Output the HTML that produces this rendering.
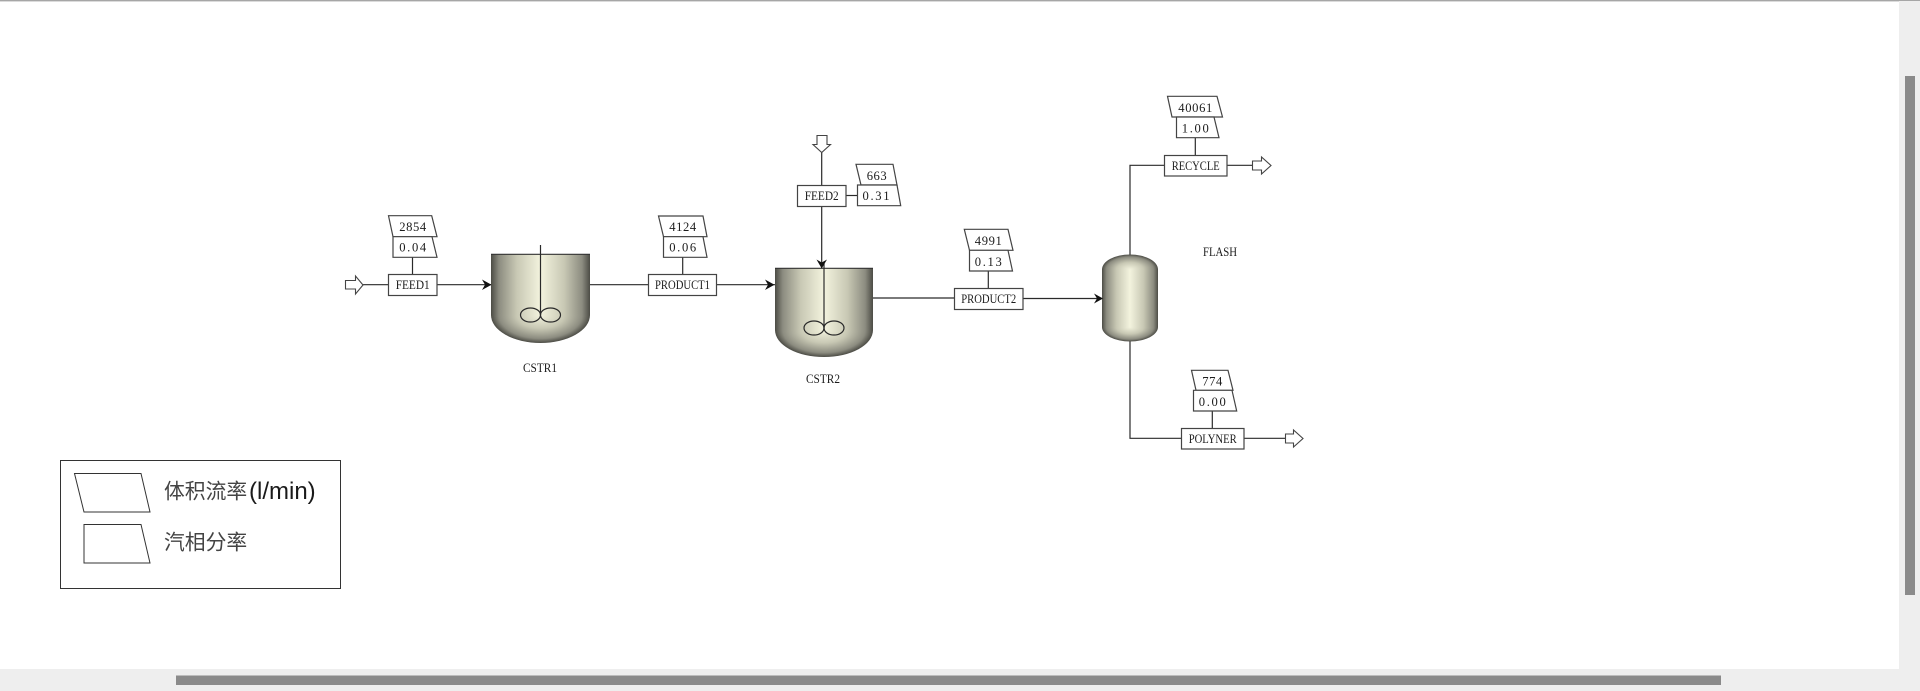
<!DOCTYPE html>
<html>
<head>
<meta charset="utf-8">
<style>
html,body{margin:0;padding:0;width:1920px;height:691px;overflow:hidden;background:#fff}
svg{display:block;position:absolute;left:0;top:0}
.t{font-family:"Liberation Serif","DejaVu Serif",serif;font-size:12.6px;fill:#1c1c1c;text-anchor:middle}
.l{font-family:"Noto Sans CJK SC","Liberation Sans",sans-serif;font-size:20.8px;fill:#444}
.m{font-family:"Liberation Sans",sans-serif;font-size:24px;fill:#1a1a1a}
.w{stroke:#2a2a2a;stroke-width:1.2;fill:none}
.b{stroke:#444;stroke-width:1.2;fill:#fff}
.o{stroke:#444;stroke-width:1.1;fill:#fff}
</style>
</head>
<body>
<svg width="1920" height="691" viewBox="0 0 1920 691" xmlns="http://www.w3.org/2000/svg">
<defs>
<linearGradient id="h" x1="0" x2="1" y1="0" y2="0">
<stop offset="0" stop-color="#4c4c45"/>
<stop offset=".08" stop-color="#8c8c80"/>
<stop offset=".26" stop-color="#c8c8b4"/>
<stop offset=".5" stop-color="#f3f3de"/>
<stop offset=".74" stop-color="#c8c8b4"/>
<stop offset=".92" stop-color="#8c8c80"/>
<stop offset="1" stop-color="#4c4c45"/>
</linearGradient>
<radialGradient id="r1" gradientUnits="userSpaceOnUse" cx="0" cy="0" r="1" gradientTransform="translate(540.5 315) scale(49.5 28)">
<stop offset="0" stop-color="#f3f3de"/>
<stop offset=".48" stop-color="#c8c8b4"/>
<stop offset=".84" stop-color="#8c8c80"/>
<stop offset="1" stop-color="#4c4c45"/>
</radialGradient>
<radialGradient id="r2" gradientUnits="userSpaceOnUse" cx="0" cy="0" r="1" gradientTransform="translate(824 330) scale(49 27)">
<stop offset="0" stop-color="#f3f3de"/>
<stop offset=".48" stop-color="#c8c8b4"/>
<stop offset=".84" stop-color="#8c8c80"/>
<stop offset="1" stop-color="#4c4c45"/>
</radialGradient>
<radialGradient id="r3" gradientUnits="userSpaceOnUse" cx="0" cy="0" r="1" gradientTransform="translate(1130 269.5) scale(28 15)">
<stop offset="0" stop-color="#f3f3de"/>
<stop offset=".48" stop-color="#c8c8b4"/>
<stop offset=".84" stop-color="#8c8c80"/>
<stop offset="1" stop-color="#4c4c45"/>
</radialGradient>
<radialGradient id="r4" gradientUnits="userSpaceOnUse" cx="0" cy="0" r="1" gradientTransform="translate(1130 327) scale(28 14.5)">
<stop offset="0" stop-color="#f3f3de"/>
<stop offset=".48" stop-color="#c8c8b4"/>
<stop offset=".84" stop-color="#8c8c80"/>
<stop offset="1" stop-color="#4c4c45"/>
</radialGradient>
</defs>

<!-- window chrome -->
<rect x="0" y="0" width="1920" height="1.4" fill="#a6a6a6"/>
<rect x="1899" y="1" width="21" height="690" fill="#eeeeee"/>
<rect x="0" y="669" width="1920" height="22" fill="#eeeeee"/>
<rect x="1905" y="76" width="10" height="519" fill="#8a8a8a"/>
<rect x="176" y="675.5" width="1545" height="9.5" fill="#8a8a8a"/>

<!-- connectors -->
<path class="w" d="M363 284.7H388M437 284.7H491"/>
<path class="w" d="M412.5 257V274"/>
<path class="w" d="M590 284.7H648M716.5 284.7H775"/>
<path class="w" d="M682.7 257V274"/>
<path class="w" d="M821.7 152V185M821.7 206V268"/>
<path class="w" d="M846 195.5H857"/>
<path class="w" d="M873 298H954M1023 298.5H1102"/>
<path class="w" d="M988.3 271V288"/>
<path class="w" d="M1130 255V165.3H1164M1227 165.3H1252"/>
<path class="w" d="M1195.3 138V155"/>
<path class="w" d="M1130 341V438.3H1181M1244 438.3H1285"/>
<path class="w" d="M1212.3 411V428"/>

<!-- CSTR1 -->
<rect x="491" y="254" width="99" height="61.5" fill="url(#h)"/>
<path d="M491 315A49.5 28 0 0 0 590 315Z" fill="url(#r1)"/>
<path d="M491 254.3H590" stroke="#333" stroke-width="1.2"/>
<path class="w" d="M540.5 245V315"/>
<ellipse class="w" stroke-width="1" cx="530.5" cy="315" rx="10" ry="7"/>
<ellipse class="w" stroke-width="1" cx="550.5" cy="315" rx="10" ry="7"/>

<!-- CSTR2 -->
<rect x="775" y="268" width="98" height="62.5" fill="url(#h)"/>
<path d="M775 330A49 27 0 0 0 873 330Z" fill="url(#r2)"/>
<path d="M775 268.3H873" stroke="#333" stroke-width="1.2"/>
<path class="w" d="M824 262V330"/>
<ellipse class="w" stroke-width="1" cx="814" cy="328" rx="10" ry="7"/>
<ellipse class="w" stroke-width="1" cx="834" cy="328" rx="10" ry="7"/>

<!-- FLASH -->
<rect x="1102" y="269" width="56" height="58.5" fill="url(#h)"/>
<path d="M1102 269.5A28 15 0 0 1 1158 269.5Z" fill="url(#r3)"/>
<path d="M1102 327A28 14.5 0 0 0 1158 327Z" fill="url(#r4)"/>

<!-- arrowheads -->
<path d="M491.5 284.7L482 279.5L485 284.7L482 290Z" fill="#111"/>
<path d="M774.5 284.7L765 279.5L768 284.7L765 290Z" fill="#111"/>
<path d="M821.7 268.5L816.5 259.5L821.7 262.5L827 259.5Z" fill="#111"/>
<path d="M1103 298.5L1094 293.5L1097 298.5L1094 303.5Z" fill="#111"/>

<!-- port arrows -->
<path class="o" d="M345.5 280.5H355.5V276L363 285L355.5 294V289H345.5Z"/>
<path class="o" d="M817 135.5H827V144.5H830.5L821.7 152.5L813 144.5H817Z"/>
<path class="o" d="M1252.5 161H1261.5V157L1271 165.5L1261.5 174V170H1252.5Z"/>
<path class="o" d="M1285.5 434H1293.5V430L1303 438.5L1293.5 447V443H1285.5Z"/>

<!-- stream boxes -->
<rect class="b" x="388.5" y="274.5" width="48.5" height="21"/><text class="t" x="412.7" y="289" textLength="34" lengthAdjust="spacingAndGlyphs">FEED1</text>
<rect class="b" x="648.5" y="274.5" width="68" height="21"/><text class="t" x="682.5" y="289" textLength="55" lengthAdjust="spacingAndGlyphs">PRODUCT1</text>
<rect class="b" x="797.5" y="185.5" width="48.5" height="21"/><text class="t" x="821.7" y="200" textLength="34" lengthAdjust="spacingAndGlyphs">FEED2</text>
<rect class="b" x="954.5" y="288.5" width="68.5" height="21"/><text class="t" x="988.7" y="303" textLength="55" lengthAdjust="spacingAndGlyphs">PRODUCT2</text>
<rect class="b" x="1164.5" y="155.5" width="62.5" height="20.5"/><text class="t" x="1195.7" y="170" textLength="48" lengthAdjust="spacingAndGlyphs">RECYCLE</text>
<rect class="b" x="1181.5" y="428.5" width="62.5" height="20.5"/><text class="t" x="1212.7" y="443" textLength="48" lengthAdjust="spacingAndGlyphs">POLYNER</text>

<!-- data tags -->
<path class="b" d="M388.5 215.7H431.7L437 236.7H393Z"/><text class="t" x="412.7" y="231" textLength="27">2854</text>
<path class="b" d="M393 236.7H432L437 257.3H393Z"/><text class="t" x="412.7" y="251.5" textLength="27">0.04</text>

<path class="b" d="M658.5 216H703L707 236.7H663.5Z"/><text class="t" x="682.7" y="231" textLength="27">4124</text>
<path class="b" d="M663.5 236.7H703L707 257.3H663.5Z"/><text class="t" x="682.7" y="251.5" textLength="27">0.06</text>

<path class="b" d="M856 164.3H893L897 185H861Z"/><text class="t" x="876.7" y="180" textLength="20">663</text>
<path class="b" d="M857.5 185H897L900.7 205.7H857.5Z"/><text class="t" x="876" y="200" textLength="27">0.31</text>

<path class="b" d="M964.3 229.3H1008L1013 250.3H969.5Z"/><text class="t" x="988.3" y="245" textLength="27">4991</text>
<path class="b" d="M969.5 250.3H1008L1012.5 271H969.5Z"/><text class="t" x="988.3" y="266" textLength="27">0.13</text>

<path class="b" d="M1167.5 96.3H1217L1222.5 117H1172Z"/><text class="t" x="1195.3" y="112" textLength="34">40061</text>
<path class="b" d="M1176.5 117H1214L1219 137.7H1176.5Z"/><text class="t" x="1195.3" y="132.5" textLength="27">1.00</text>

<path class="b" d="M1191.5 370.3H1228L1233 390.3H1196Z"/><text class="t" x="1212.3" y="385.5" textLength="20">774</text>
<path class="b" d="M1193.5 390.3H1232L1236.7 411H1193.5Z"/><text class="t" x="1212.3" y="406" textLength="27">0.00</text>

<!-- labels -->
<text class="t" x="540" y="372" textLength="34" lengthAdjust="spacingAndGlyphs">CSTR1</text>
<text class="t" x="823" y="383" textLength="34" lengthAdjust="spacingAndGlyphs">CSTR2</text>
<text class="t" x="1220" y="256" textLength="34" lengthAdjust="spacingAndGlyphs">FLASH</text>

<!-- legend -->
<rect x="60.5" y="460.5" width="280" height="128" fill="#fff" stroke="#333" stroke-width="1"/>
<path d="M74.5 473.5H141L150 512H84Z" fill="#fff" stroke="#333" stroke-width="1"/>
<path d="M84 524.5H141L150 563H84Z" fill="#fff" stroke="#333" stroke-width="1"/>
<text class="l" x="164" y="498.5">体积流率</text><text class="m" x="249" y="499">(l/min)</text>
<text class="l" x="164" y="549.5">汽相分率</text>
</svg>
</body>
</html>
